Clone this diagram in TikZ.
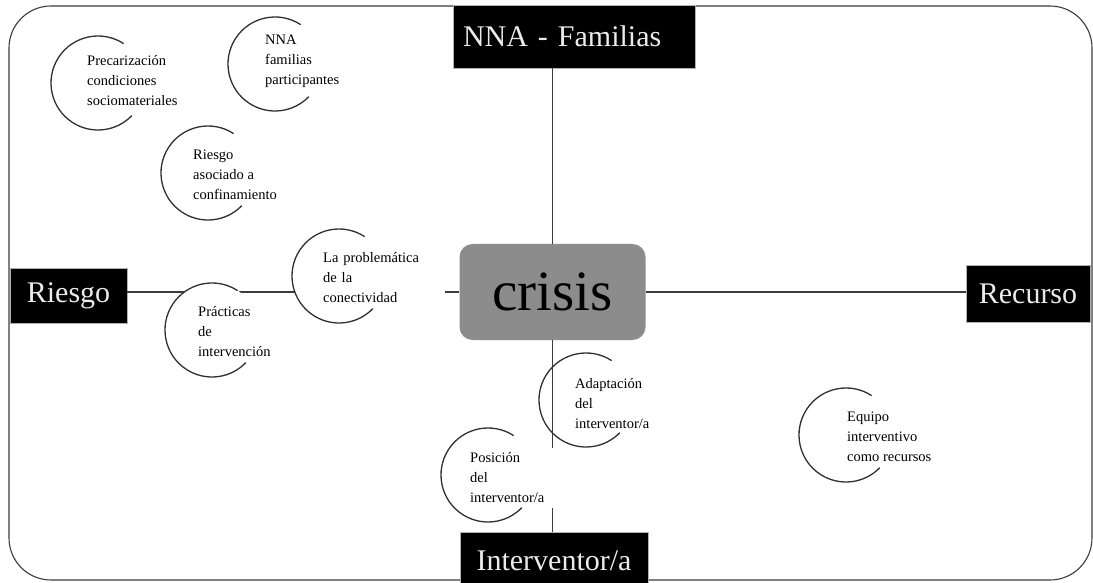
\documentclass[tikz,border=0pt]{standalone}
\usepackage{fontspec}
\setmainfont{Liberation Serif}

\definecolor{crisisgray}{HTML}{8C8C8C}
\definecolor{linegray}{HTML}{3C3C3C}

\tikzset{
  axisbox/.style={fill=black, draw=gray!60, line width=0.6pt, text=white!92!black,
    font=\fontsize{30}{34}\selectfont, inner sep=0pt},
  bubble/.style={circle, fill=white, minimum size=94pt, inner sep=0pt, outer sep=0pt},
  bubbletext/.style={anchor=west, align=left, fill=white, inner sep=0pt,
    font=\fontsize{14.5}{20}\selectfont},
  axis/.style={draw=linegray, line width=1.4pt},
}

\begin{document}
\begin{tikzpicture}[x=1pt,y=1pt]
  \useasboundingbox (0,0) rectangle (1093,582);
  % marco
  \draw[linegray, line width=1.1pt, rounded corners=42pt] (9,2) rectangle (1092,576);

  % centro y ejes
  \node[fill=crisisgray, rounded corners=13pt, minimum width=186pt, minimum height=96pt,
    font=\fontsize{57}{60}\selectfont] (crisis) at (552.5,290) {crisis};
  \node[axisbox, minimum width=242pt, minimum height=63pt, text width=222pt, align=left,
    inner xsep=10pt] (nna) at (574,545.5) {NNA - Familias};
  \node[axisbox, minimum width=117pt, minimum height=55pt] (riesgo) at (68.5,286.5) {Riesgo};
  \node[axisbox, minimum width=124pt, minimum height=57pt] (recurso) at (1028,288.5) {Recurso};
  \node[axisbox, minimum width=188pt, minimum height=58pt] (inter) at (554,21) {Interventor/a};

  \draw[axis] (riesgo.east |- crisis.west) -- (crisis.west);
  \draw[axis] (crisis.east) -- (crisis.east -| recurso.west);
  \draw[axis] (crisis.north) -- (crisis.north |- nna.south);
  \draw[axis] (crisis.south) -- (crisis.south |- inter.north);

  % burbujas
  \node[bubble] (prec) at (98,499) {};
  \node[bubble] (fam) at (275,518) {};
  \node[bubble] (conf) at (208,409) {};
  \node[bubble] (conec) at (339,306) {};
  \node[bubble] (pract) at (212,252) {};
  \node[bubble, fill=none] (adapt) at (586,182) {};
  \node[bubble] (posic) at (488,107) {};
  \node[bubble] (equipo) at (846,147) {};

  \node[bubbletext] (prec-t) at (87,501) {Precarización\\condiciones\\sociomateriales};
  \node[bubbletext] (fam-t) at (265,521) {NNA\\familias\\participantes};
  \node[bubbletext] (conf-t) at (193,407) {Riesgo\\asociado a\\confinamiento};
  \node[bubbletext, text width=122pt] (conec-t) at (323,304) {La problemática\\de la\\conectividad};
  \node[bubbletext] (pract-t) at (198,250) {Prácticas\\de\\intervención};
  \node[bubbletext] (adapt-t) at (575,178) {Adaptación\\del\\interventor/a};
  \node[bubbletext, text width=88pt, inner ysep=5pt] (posic-t) at (470,104) {Posición\\del\\interventor/a};
  \node[bubbletext] (equipo-t) at (847,145) {Equipo\\interventivo\\como recursos};

  \foreach \b in {prec,fam,conf,conec,pract,adapt,posic,equipo}
    \draw[linegray!80!black, line width=1.3pt] (\b.57) arc[start angle=57, end angle=316, radius=47pt];
\end{tikzpicture}
\end{document}
